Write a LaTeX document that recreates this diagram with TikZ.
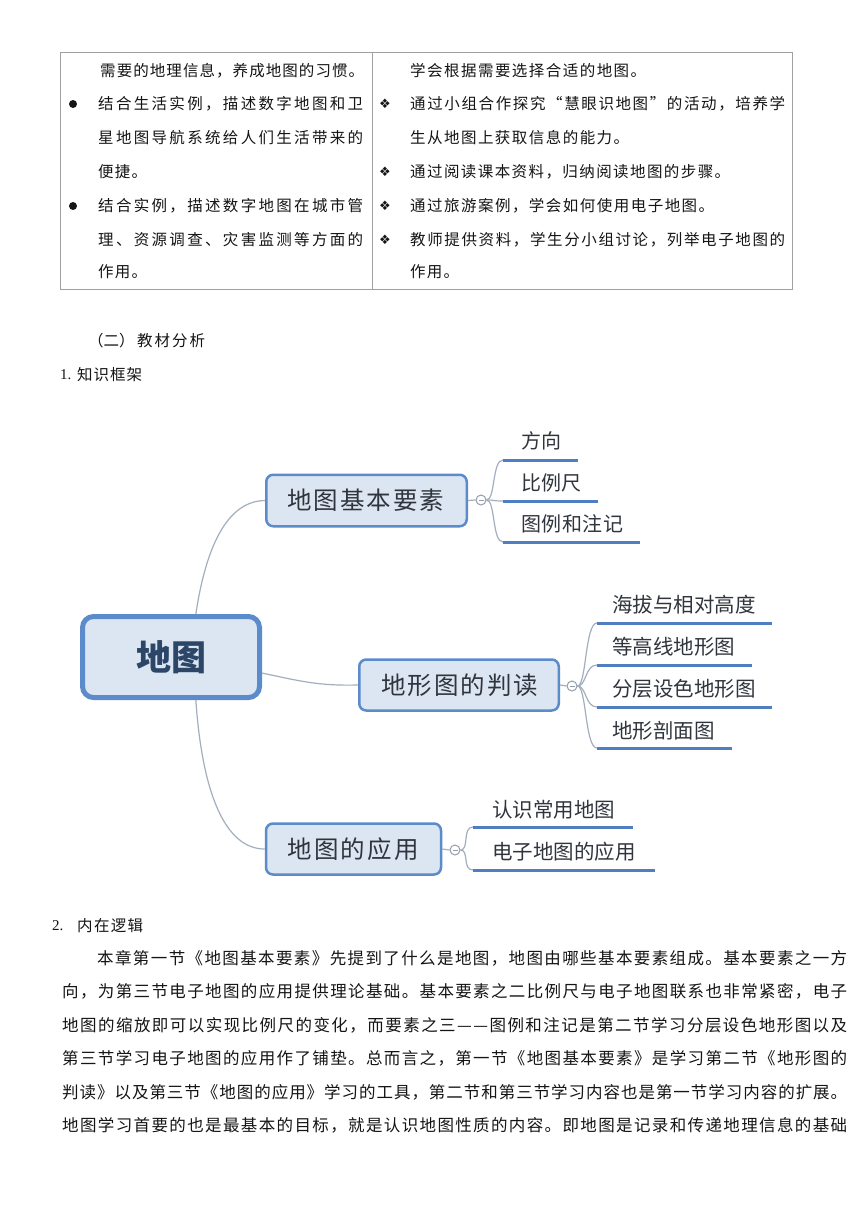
\documentclass[tikz,border=0pt]{standalone}
\usepackage{fontspec}
\setmainfont{Liberation Serif}
\newfontfamily\cjk{Noto Sans CJK SC}
\newfontfamily\symf{DejaVu Sans}
\definecolor{txt}{HTML}{151515}
\definecolor{mtxt}{HTML}{30353D}
\definecolor{rtxt}{HTML}{2C4668}
\definecolor{mfill}{HTML}{DCE6F2}
\definecolor{mline}{HTML}{5B8BCB}
\definecolor{uline}{HTML}{4F7FC0}
\definecolor{conn}{HTML}{A3AFBE}
\definecolor{tline}{HTML}{A0A0A0}
\def\spr#1{#1\spra}
\def\spra#1{\ifx#1\relax\else\hfil#1\expandafter\spra\fi}
% \tl{name}{x}{y}{width}{size}{text}
\newcommand\tl[6]{\node[anchor=west,inner sep=0pt,text=txt] (#1) at (#2,#3) {\cjk\fontsize{#5}{#5}\selectfont\makebox[#4pt][s]{\spr#6\relax}};}
\newcommand\ml[6]{\node[anchor=west,inner sep=0pt,text=mtxt] (#1) at (#2,#3) {\cjk\fontsize{#5}{#5}\selectfont\makebox[#4pt][s]{\spr#6\relax}};}
\tikzset{
  branchbox/.style={draw=mline, fill=mfill, line width=2.5pt, rounded corners=7pt, inner sep=0pt},
  rootbox/.style={draw=mline, fill=mfill, line width=5pt, rounded corners=11pt, inner sep=0pt},
  cnode/.style={circle, draw=conn!90!black, fill=white, line width=1pt, minimum size=10pt, inner sep=0pt},
  connector/.style={draw=conn, line width=1.2pt},
  underl/.style={draw=uline, line width=3pt},
  tableline/.style={draw=tline, line width=0.9pt}
}
\begin{document}
\begin{tikzpicture}[x=1pt,y=-1pt]
\useasboundingbox (0,0) rectangle (860,1216);
\fill[white] (0,0) rectangle (860,1216);
% ---------- table ----------
\draw[tableline] (60,52) rectangle (792,289);
\draw[tableline] (372,52) -- (372,289);
\tl{l1}{100}{71}{264}{15.5}{需要的地理信息，养成地图的习惯。}
\tl{l2}{98}{104}{265}{15.5}{结合生活实例，描述数字地图和卫}
\tl{l3}{98}{138}{265}{15.5}{星地图导航系统给人们生活带来的}
\tl{l4}{98}{172}{49}{15.5}{便捷。}
\tl{l5}{98}{206}{265}{15.5}{结合实例，描述数字地图在城市管}
\tl{l6}{98}{240}{265}{15.5}{理、资源调查、灾害监测等方面的}
\tl{l7}{98}{272}{49}{15.5}{作用。}
\fill[txt] (73,104) circle (4);
\fill[txt] (73,206) circle (4);
\tl{r1}{410}{71}{236}{15.5}{学会根据需要选择合适的地图。}
\tl{r2}{410}{104}{375}{15.5}{通过小组合作探究“慧眼识地图”的活动，培养学}
\tl{r3}{410}{138}{219}{15.5}{生从地图上获取信息的能力。}
\tl{r4}{410}{172}{320}{15.5}{通过阅读课本资料，归纳阅读地图的步骤。}
\tl{r5}{410}{206}{304}{15.5}{通过旅游案例，学会如何使用电子地图。}
\tl{r6}{410}{240}{375}{15.5}{教师提供资料，学生分小组讨论，列举电子地图的}
\tl{r7}{410}{272}{49}{15.5}{作用。}
\foreach \yy [count=\i] in {104,172,206,240}
  \node[inner sep=0pt,text=txt] (dia\i) at (385,\yy) {\symf\fontsize{13}{13}\selectfont ❖};
% ---------- headings ----------
\tl{h1a}{88}{341}{36}{15.5}{（二）}
\tl{h1b}{137}{341}{68}{15.5}{教材分析}
\node[anchor=west,inner sep=0pt,text=txt] (h2a) at (60,375) {\fontsize{15}{15}\selectfont 1.};
\tl{h2b}{77}{375}{65}{15.5}{知识框架}
\node[anchor=west,inner sep=0pt,text=txt] (h3a) at (52,926) {\fontsize{15}{15}\selectfont 2.};
\tl{h3b}{77}{926}{66}{15.5}{内在逻辑}
% ---------- paragraph ----------
\tl{p1}{97}{958}{750}{16.5}{本章第一节《地图基本要素》先提到了什么是地图，地图由哪些基本要素组成。基本要素之一方}
\tl{p2}{62}{991}{785}{16.5}{向，为第三节电子地图的应用提供理论基础。基本要素之二比例尺与电子地图联系也非常紧密，电子}
\tl{p3}{62}{1025}{785}{16.5}{地图的缩放即可以实现比例尺的变化，而要素之三——图例和注记是第二节学习分层设色地形图以及}
\tl{p4}{62}{1058}{785}{16.5}{第三节学习电子地图的应用作了铺垫。总而言之，第一节《地图基本要素》是学习第二节《地形图的}
\tl{p5}{62}{1092}{785}{16.5}{判读》以及第三节《地图的应用》学习的工具，第二节和第三节学习内容也是第一节学习内容的扩展。}
\tl{p6}{62}{1125}{785}{16.5}{地图学习首要的也是最基本的目标，就是认识地图性质的内容。即地图是记录和传递地理信息的基础}
% ---------- mind map ----------
\node[rootbox, minimum width=177pt, minimum height=81pt] (root) at (171,657) {};
\node[text=rtxt] (roottxt) at (root.center) {\cjk\bfseries\fontsize{35}{35}\selectfont 地图};
\node[branchbox, minimum width=200.5pt, minimum height=51.5pt] (b1) at (366.5,500.5) {};
\ml{b1t}{287}{500}{157}{24.5}{地图基本要素}
\node[branchbox, minimum width=199.5pt, minimum height=51pt] (b2) at (459,685) {};
\ml{b2t}{381}{685}{157}{24.5}{地形图的判读}
\node[branchbox, minimum width=175pt, minimum height=51pt] (b3) at (353.5,849) {};
\ml{b3t}{287}{849}{132}{24.5}{地图的应用}
% main connectors
\draw[connector] (root.60) .. controls (204,560) and (222,501) .. (b1.west);
\draw[connector] (root.-10) .. controls (300,681) and (318,686) .. (b2.west);
\draw[connector] (root.-60) .. controls (202,790) and (224,849) .. (b3.west);
% collapse circles
\node[cnode] (c1) at (481,500) {};
\node[cnode] (c2) at (572,686) {};
\node[cnode] (c3) at (455,850) {};
\foreach \c in {c1,c2,c3} \draw[conn!90!black, line width=0.8pt] ([xshift=-2.5pt]\c.center) -- ([xshift=2.5pt]\c.center);
\draw[connector] (b1.east) -- (c1.west);
\draw[connector] (b2.east) -- (c2.west);
\draw[connector] (b3.east) -- (c3.west);
% branch 1 children
\coordinate (u1a) at (503,460); \coordinate (u1b) at (578,460);
\coordinate (u2a) at (503,501); \coordinate (u2b) at (598,501);
\coordinate (u3a) at (503,542); \coordinate (u3b) at (640,542);
\ml{k1}{521}{441}{37}{20}{方向}
\ml{k2}{521}{483}{58}{20}{比例尺}
\ml{k3}{521}{524}{102}{20}{图例和注记}
\foreach \u in {u1,u2,u3} {
  \draw[connector] (c1.east) .. controls +(9,0) and +(-11,0) .. (\u a);
  \draw[underl] (\u a) -- (\u b);
}
% branch 2 children
\coordinate (v1a) at (597,623); \coordinate (v1b) at (772,623);
\coordinate (v2a) at (597,665); \coordinate (v2b) at (752,665);
\coordinate (v3a) at (597,707); \coordinate (v3b) at (772,707);
\coordinate (v4a) at (597,748); \coordinate (v4b) at (732,748);
\ml{m1}{612}{605}{141}{20.5}{海拔与相对高度}
\ml{m2}{612}{647}{121}{20.5}{等高线地形图}
\ml{m3}{612}{689}{139}{20.5}{分层设色地形图}
\ml{m4}{612}{731}{101}{20.5}{地形剖面图}
\foreach \u in {v1,v2,v3,v4} {
  \draw[connector] (c2.east) .. controls +(9,0) and +(-12,0) .. (\u a);
  \draw[underl] (\u a) -- (\u b);
}
% branch 3 children
\coordinate (w1a) at (473,827); \coordinate (w1b) at (633,827);
\coordinate (w2a) at (473,870); \coordinate (w2b) at (655,870);
\ml{n1}{492}{810}{121}{20.5}{认识常用地图}
\ml{n2}{492}{852}{142}{20.5}{电子地图的应用}
\foreach \u in {w1,w2} {
  \draw[connector] (c3.east) .. controls +(9,0) and +(-11,0) .. (\u a);
  \draw[underl] (\u a) -- (\u b);
}
\end{tikzpicture}
\end{document}
